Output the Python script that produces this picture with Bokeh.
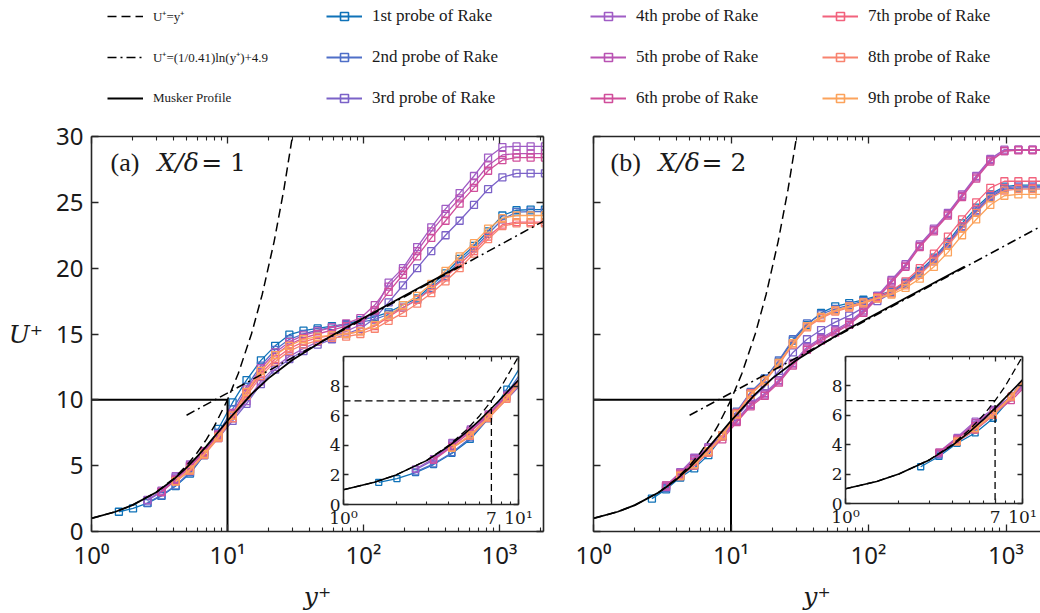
import numpy as np
from bokeh.plotting import figure
from bokeh.models import (ColumnDataSource, LinearAxis, LogAxis, FixedTicker, Range1d,
                          Label, Legend, LegendItem, GridBox, CustomJSTickFormatter)
from bokeh.layouts import column, row
from bokeh.embed import file_html
from bokeh.resources import INLINE

nan = float("nan")

# ---------------- data ----------------
PROBE_LABELS = ["1st probe of Rake", "2nd probe of Rake", "3rd probe of Rake",
                "4th probe of Rake", "5th probe of Rake", "6th probe of Rake",
                "7th probe of Rake", "8th probe of Rake", "9th probe of Rake"]
PROBE_COLORS = ["#0f72b8", "#4f6fc8", "#7b62c8", "#a05dc5", "#b953b3",
                "#d04e9b", "#f2627d", "#f8836f", "#fca35c"]

# panel (a)  X/delta = 1
YPLUS_A = [1.59, 2.02, 2.58, 3.27, 4.16, 5.30, 6.73, 8.57, 10.9, 13.8, 17.6, 22.4, 28.5,
           36.2, 46.0, 58.6, 74.5, 94.8, 121, 153, 195, 248, 315, 401, 509, 649, 824,
           1050, 1334, 1694, 2158]
U_A = [
    [1.5, 1.75, 2.15, 2.7, 3.45, 4.4, 5.8, 7.8, 9.8, 11.5, 13.0, 14.1, 14.95, 15.25, 15.42, 15.6, 15.75, 16.05, 16.3, 16.65, 17.2, 17.7, 18.7, 19.6, 20.7, 21.7, 22.8, 24.0, 24.4, 24.45, 24.45],
    [nan, nan, 2.2, 2.75, 3.5, 4.5, 5.8, 7.5, 9.3, 11.0, 12.6, 13.8, 14.6, 15.0, 15.3, 15.5, 15.7, 15.9, 16.1, 16.5, 17.0, 17.6, 18.5, 19.4, 20.5, 21.5, 22.6, 23.7, 24.25, 24.3, 24.3],
    [nan, nan, 2.35, 3.0, 4.1, 5.0, 6.0, 7.1, 8.4, 9.7, 11.2, 12.3, 13.1, 13.7, 14.2, 14.6, 15.0, 15.4, 16.2, 17.4, 18.7, 20.0, 21.3, 22.5, 23.6, 24.8, 26.0, 26.9, 27.2, 27.2, 27.2],
    [nan, nan, 2.4, 3.1, 4.2, 5.1, 6.1, 7.3, 8.6, 9.9, 11.4, 12.5, 13.3, 13.9, 14.4, 14.8, 15.2, 15.7, 16.8, 18.9, 20.0, 21.6, 23.1, 24.5, 25.7, 27.0, 28.4, 29.2, 29.25, 29.25, 29.25],
    [nan, nan, nan, 3.0, 4.0, 5.0, 6.1, 7.4, 9.0, 10.8, 12.4, 13.6, 14.4, 14.9, 15.2, 15.5, 15.8, 16.2, 17.2, 18.6, 19.8, 21.3, 22.8, 24.1, 25.3, 26.5, 27.8, 28.6, 28.7, 28.7, 28.7],
    [nan, nan, nan, 3.0, 3.9, 4.9, 6.0, 7.3, 8.9, 10.6, 12.2, 13.4, 14.2, 14.7, 15.0, 15.3, 15.6, 15.9, 16.8, 18.2, 19.5, 20.9, 22.3, 23.6, 24.9, 26.1, 27.4, 28.2, 28.4, 28.4, 28.4],
    [nan, nan, nan, nan, 3.8, 4.7, 5.9, 7.2, 8.8, 10.5, 12.0, 13.1, 13.9, 14.4, 14.7, 14.9, 15.0, 15.2, 15.6, 16.3, 17.0, 17.6, 18.4, 19.3, 20.3, 21.3, 22.4, 23.3, 23.5, 23.5, 23.5],
    [nan, nan, nan, nan, 3.8, 4.6, 5.8, 7.1, 8.6, 10.3, 11.8, 12.9, 13.7, 14.2, 14.5, 14.7, 14.8, 15.0, 15.4, 16.0, 16.6, 17.3, 18.1, 19.0, 20.0, 21.1, 22.2, 23.2, 23.4, 23.4, 23.4],
    [nan, nan, nan, nan, 3.8, 4.7, 5.9, 7.2, 8.8, 10.6, 12.2, 13.4, 14.1, 14.6, 14.8, 14.9, 15.0, 15.2, 15.7, 16.4, 17.2, 17.9, 18.8, 19.8, 20.9, 21.9, 23.0, 23.8, 24.0, 24.0, 24.0],
]

# panel (b)  X/delta = 2
YPLUS_B = [1.66, 2.10, 2.66, 3.37, 4.27, 5.40, 6.84, 8.65, 11.0, 13.9, 17.6, 22.3, 28.2,
           35.7, 45.2, 57.3, 72.4, 91.8, 116, 147, 186, 236, 299, 378, 479, 607, 769,
           973, 1230, 1560, 1980]
U_B = [
    [nan, nan, 2.5, 3.2, 4.1, 4.8, 5.8, 7.2, 9.0, 10.5, 11.6, 12.9, 14.5, 15.7, 16.6, 17.1, 17.35, 17.6, 17.9, 18.3, 18.9, 19.8, 20.8, 22.0, 23.4, 24.6, 25.6, 26.2, 26.3, 26.3, 26.3],
    [nan, nan, nan, 3.3, 4.2, 5.0, 6.0, 7.3, 9.1, 10.6, 11.6, 13.0, 14.6, 15.8, 16.5, 16.9, 17.2, 17.5, 17.8, 18.2, 18.8, 19.6, 20.6, 21.8, 23.1, 24.3, 25.4, 26.0, 26.1, 26.1, 26.1],
    [nan, nan, nan, 3.4, 4.4, 5.4, 6.3, 7.3, 8.7, 10.0, 11.0, 12.2, 13.6, 14.6, 15.3, 15.9, 16.4, 17.0, 17.5, 18.1, 18.8, 19.7, 20.7, 21.9, 23.2, 24.4, 25.5, 26.1, 26.2, 26.2, 26.2],
    [nan, nan, nan, 3.5, 4.5, 5.6, 6.4, 7.3, 8.5, 9.7, 10.5, 11.5, 12.8, 14.0, 14.7, 15.3, 15.9, 16.8, 17.9, 19.1, 20.3, 21.8, 23.0, 24.2, 25.6, 27.0, 28.3, 29.0, 29.0, 29.0, 29.0],
    [nan, nan, nan, 3.4, 4.4, 5.5, 6.3, 7.2, 8.4, 9.6, 10.4, 11.4, 12.7, 13.9, 14.6, 15.2, 15.8, 16.7, 17.8, 19.0, 20.2, 21.7, 22.9, 24.1, 25.5, 26.9, 28.2, 28.9, 29.0, 29.0, 29.0],
    [nan, nan, nan, 3.5, 4.4, 5.3, 6.1, 7.0, 8.3, 9.5, 10.3, 11.3, 12.6, 13.8, 14.5, 15.1, 15.7, 16.6, 17.7, 18.9, 20.1, 21.6, 22.8, 24.0, 25.4, 26.8, 28.1, 28.9, 28.95, 28.95, 28.95],
    [nan, nan, nan, nan, 4.2, 5.0, 6.0, 7.3, 9.0, 10.5, 11.5, 12.8, 14.3, 15.6, 16.3, 16.8, 17.1, 17.4, 17.8, 18.3, 19.0, 20.0, 21.1, 22.4, 23.7, 25.0, 26.1, 26.6, 26.6, 26.6, 26.6],
    [nan, nan, nan, nan, 4.3, 5.1, 6.0, 7.2, 8.9, 10.4, 11.4, 12.7, 14.2, 15.5, 16.2, 16.7, 17.0, 17.3, 17.7, 18.1, 18.7, 19.5, 20.5, 21.7, 23.0, 24.2, 25.3, 25.9, 26.0, 26.0, 26.0],
    [nan, nan, nan, nan, 4.2, 5.1, 6.1, 7.3, 8.9, 10.4, 11.5, 12.8, 14.3, 15.6, 16.3, 16.8, 17.1, 17.4, 17.7, 18.0, 18.5, 19.2, 20.1, 21.2, 22.5, 23.7, 24.8, 25.5, 25.6, 25.6, 25.6],
]

# reference curves (tabulated)
MUSKER_YPLUS = [1, 1.5, 2, 3, 4, 5, 6, 7, 8, 10, 12, 15, 20, 30, 50, 70, 100, 200, 500]
MUSKER_U = [1.00, 1.50, 2.00, 2.98, 3.94, 4.85, 5.70, 6.49, 7.20, 8.41, 9.31, 10.44,
            11.63, 13.02, 14.47, 15.34, 16.22, 17.91, 20.13]
VISC_YPLUS = [1, 1.5, 2, 3, 4, 5, 6, 7, 8, 10, 12, 15, 18, 22, 26, 30]
VISC_U = [1, 1.5, 2, 3, 4, 5, 6, 7, 8, 10, 12, 15, 18, 22, 26, 30]
LOG_YPLUS = [5, 2100]
LOG_U = [8.83, 23.56]
BOX_X = [1, 10, 10]
BOX_Y = [10, 10, 0]
GUIDE_X = [1, 7, 7]
GUIDE_Y = [7, 7, 0]

X_TICKS_MAIN = [1, 10, 100, 1000]
Y_TICKS_MAIN = [0, 5, 10, 15, 20, 25, 30]
X_TICKS_INSET = [1, 7, 10]
Y_TICKS_INSET = [0, 2, 4, 6, 8]
MINOR_MAIN = [m * 10 ** k for k in range(4) for m in range(2, 10)]
MINOR_INSET = [2, 3, 4, 5, 6, 8, 9]

AX_COLOR = "#262626"
SUP_JS = """
const sup = {"0": "\u2070", "1": "\u00b9", "2": "\u00b2", "3": "\u00b3"};
if (Math.abs(tick - 7) < 1e-6) { return "7"; }
const e = Math.round(Math.log(tick) / Math.LN10);
return "10" + sup[String(e)];
"""
BLANK_JS = "return '';"

DASH = "9 5"
DASHDOT = "9 4 2 4"


def style_axis(ax, labels=True, font="Noto Sans", size="24px", tick_in=7, minor_in=4):
    ax.axis_line_color = AX_COLOR
    ax.axis_line_width = 1.6
    ax.major_tick_line_color = AX_COLOR
    ax.major_tick_line_width = 1.3
    ax.minor_tick_line_color = AX_COLOR
    ax.minor_tick_line_width = 1.1
    ax.major_tick_in = tick_in
    ax.major_tick_out = 0
    ax.minor_tick_in = minor_in
    ax.minor_tick_out = 0
    if labels:
        ax.major_label_text_font = font
        ax.major_label_text_font_size = size
        ax.major_label_text_color = "#1a1a1a"
    else:
        ax.formatter = CustomJSTickFormatter(code=BLANK_JS)
        ax.major_label_text_font_size = "2px"
        ax.major_label_standoff = 0


def add_series(p, yplus, series, size=7):
    for i in range(9):
        src = ColumnDataSource(dict(x=np.array(yplus, dtype=float),
                                    y=np.array(series[i], dtype=float)))
        p.line("x", "y", source=src, line_color=PROBE_COLORS[i], line_width=1.3)
        p.scatter("x", "y", source=src, marker="square", size=size,
                  line_color=PROBE_COLORS[i], fill_color=None, line_width=1.3)


def main_panel(yplus, series, x_end, width, border_left, border_right, tag, tag_x, sym_x, eq_x, eq_text,
               ylabels, right_axis):
    p = figure(width=width, height=495, x_axis_type="log",
               x_range=Range1d(1, x_end), y_range=Range1d(0, 30),
               output_backend="svg", toolbar_location=None,
               min_border_left=border_left, min_border_right=border_right,
               min_border_top=18, min_border_bottom=75)
    p.grid.visible = False
    p.outline_line_color = None
    p.background_fill_color = "white"

    xa = p.xaxis[0]
    xa.ticker = FixedTicker(ticks=X_TICKS_MAIN, minor_ticks=MINOR_MAIN)
    style_axis(xa, labels=True, font="Noto Sans", size="24px")
    xa.formatter = CustomJSTickFormatter(code=SUP_JS)
    xa.major_label_standoff = 6
    xa.axis_label = "y\u207a"
    xa.axis_label_text_font = "DejaVu Serif"
    xa.axis_label_text_font_style = "italic"
    xa.axis_label_text_font_size = "25px"
    xa.axis_label_text_color = "#1a1a1a"
    xa.axis_label_standoff = 8

    ya = p.yaxis[0]
    ya.ticker = FixedTicker(ticks=Y_TICKS_MAIN, minor_ticks=[])
    style_axis(ya, labels=ylabels, font="Noto Sans", size="24px")
    if ylabels:
        ya.major_label_standoff = 8
        ya.axis_label = "U\u207a"
        ya.axis_label_orientation = "horizontal"
        ya.axis_label_text_baseline = "bottom"
        ya.axis_label_text_font = "DejaVu Serif"
        ya.axis_label_text_font_style = "italic"
        ya.axis_label_text_font_size = "25px"
        ya.axis_label_text_color = "#1a1a1a"
        ya.axis_label_standoff = 10

    top = LogAxis(ticker=FixedTicker(ticks=X_TICKS_MAIN, minor_ticks=MINOR_MAIN))
    style_axis(top, labels=False)
    p.add_layout(top, "above")
    if right_axis:
        ra = LinearAxis(ticker=FixedTicker(ticks=Y_TICKS_MAIN, minor_ticks=[]))
        style_axis(ra, labels=False)
        p.add_layout(ra, "right")

    add_series(p, yplus, series)

    p.line(VISC_YPLUS, VISC_U, line_color="black", line_width=1.5, line_dash=DASH)
    p.line(LOG_YPLUS, LOG_U, line_color="black", line_width=1.5, line_dash=DASHDOT)
    p.line(MUSKER_YPLUS, MUSKER_U, line_color="black", line_width=1.8)
    p.line(BOX_X, BOX_Y, line_color="black", line_width=2)

    p.add_layout(Label(x=tag_x, y=28.0, text=tag, text_font="Liberation Serif",
                       text_font_size="26px", text_baseline="middle", text_color="#1a1a1a"))
    p.add_layout(Label(x=sym_x, y=28.0, text="X/\u03b4", text_font="DejaVu Serif",
                       text_font_style="italic", text_font_size="25px",
                       text_baseline="middle", text_color="#1a1a1a"))
    p.add_layout(Label(x=eq_x, y=28.0, text=eq_text, text_font="DejaVu Serif",
                       text_font_size="25px", text_baseline="middle", text_color="#1a1a1a"))
    return p


def inset_panel(yplus, series, frame_w, frame_h):
    q = figure(width=25 + frame_w + 16, height=4 + frame_h + 28, x_axis_type="log",
               x_range=Range1d(1, 10), y_range=Range1d(0, 10),
               output_backend="svg", toolbar_location=None,
               min_border_left=25, min_border_right=16, min_border_top=4, min_border_bottom=28)
    q.grid.visible = False
    q.outline_line_color = None
    q.background_fill_color = "white"
    q.border_fill_alpha = 0

    xa = q.xaxis[0]
    xa.ticker = FixedTicker(ticks=X_TICKS_INSET, minor_ticks=MINOR_INSET)
    style_axis(xa, labels=True, font="DejaVu Serif", size="17px", tick_in=5, minor_in=3)
    xa.formatter = CustomJSTickFormatter(code=SUP_JS)
    xa.major_label_standoff = 3

    ya = q.yaxis[0]
    ya.ticker = FixedTicker(ticks=Y_TICKS_INSET, minor_ticks=[])
    style_axis(ya, labels=True, font="DejaVu Serif", size="17px", tick_in=5, minor_in=3)
    ya.major_label_standoff = 3

    top = LogAxis(ticker=FixedTicker(ticks=X_TICKS_INSET, minor_ticks=MINOR_INSET))
    style_axis(top, labels=False, tick_in=5, minor_in=3)
    q.add_layout(top, "above")
    ra = LinearAxis(ticker=FixedTicker(ticks=Y_TICKS_INSET, minor_ticks=[]))
    style_axis(ra, labels=False, tick_in=5, minor_in=3)
    q.add_layout(ra, "right")

    add_series(q, yplus, series, size=6)
    q.line(VISC_YPLUS, VISC_U, line_color="black", line_width=1.3, line_dash="7 4")
    q.line(MUSKER_YPLUS, MUSKER_U, line_color="black", line_width=1.6)
    q.line(GUIDE_X, GUIDE_Y, line_color="black", line_width=1.3, line_dash="7 4")
    return q


# ---------------- legend strip ----------------
# ranges chosen so that the renderers below (which only feed the legend) stay off-screen
lg = figure(width=1040, height=118, x_range=Range1d(-2, -1), y_range=Range1d(-2, -1),
            output_backend="svg", toolbar_location=None, min_border=0,
            x_axis_location=None, y_axis_location=None)
lg.grid.visible = False
lg.outline_line_color = None

r_visc = lg.line(VISC_YPLUS, VISC_U, line_color="black", line_width=1.5, line_dash=DASH)
r_log = lg.line(LOG_YPLUS, LOG_U, line_color="black", line_width=1.5, line_dash=DASHDOT)
r_mus = lg.line(MUSKER_YPLUS, MUSKER_U, line_color="black", line_width=1.8)
ref_items = [LegendItem(label="U\u207a=y\u207a", renderers=[r_visc]),
             LegendItem(label="U\u207a=(1/0.41)ln(y\u207a)+4.9", renderers=[r_log]),
             LegendItem(label="Musker Profile", renderers=[r_mus])]

probe_items = []
for i in range(9):
    src = ColumnDataSource(dict(x=np.array(YPLUS_A, dtype=float), y=np.array(U_A[i], dtype=float)))
    rl = lg.line("x", "y", source=src, line_color=PROBE_COLORS[i], line_width=2)
    rs = lg.scatter("x", "y", source=src, marker="square", size=8,
                    line_color=PROBE_COLORS[i], fill_color=None, line_width=1.6)
    probe_items.append(LegendItem(label=PROBE_LABELS[i], renderers=[rl, rs]))


def make_legend(items, x, font_size):
    return Legend(items=items, location=(x, 10), orientation="vertical",
                  glyph_width=36, glyph_height=20, label_height=20, spacing=21,
                  padding=0, margin=0, label_standoff=10,
                  border_line_alpha=0, background_fill_alpha=0,
                  label_text_font="Liberation Serif", label_text_font_size=font_size,
                  label_text_color="#1a1a1a")


lg.add_layout(make_legend(ref_items, 107, "13px"))
lg.add_layout(make_legend(probe_items[0:3], 326, "17px"))
lg.add_layout(make_legend(probe_items[3:6], 590, "17px"))
lg.add_layout(make_legend(probe_items[6:9], 822, "17px"))

# ---------------- panels ----------------
pa = main_panel(YPLUS_A, U_A, 2106, 560, 91, 17, "(a)", 1.38, 3.06, 6.4, "= 1",
                ylabels=True, right_axis=True)
pb = main_panel(YPLUS_B, U_B, 1782, 480, 33, 0, "(b)", 1.33, 2.97, 6.1, "= 2",
                ylabels=False, right_axis=False)

ia = inset_panel(YPLUS_A, U_A, 175, 148)
ib = inset_panel(YPLUS_B, U_B, 177, 147)

ga = GridBox(children=[(pa, 0, 0, 3, 3), (ia, 1, 1, 1, 1)],
             cols=["318px", "216px", "26px"], rows=["234px", "180px", "81px"],
             width=560, height=495)
gb = GridBox(children=[(pb, 0, 0, 3, 3), (ib, 1, 1, 1, 1)],
             cols=["260px", "218px", "2px"], rows=["234px", "179px", "82px"],
             width=480, height=495)

layout = column(lg, row(ga, gb))

with open("out.html", "w", encoding="utf-8") as f:
    f.write(file_html(layout, INLINE))
